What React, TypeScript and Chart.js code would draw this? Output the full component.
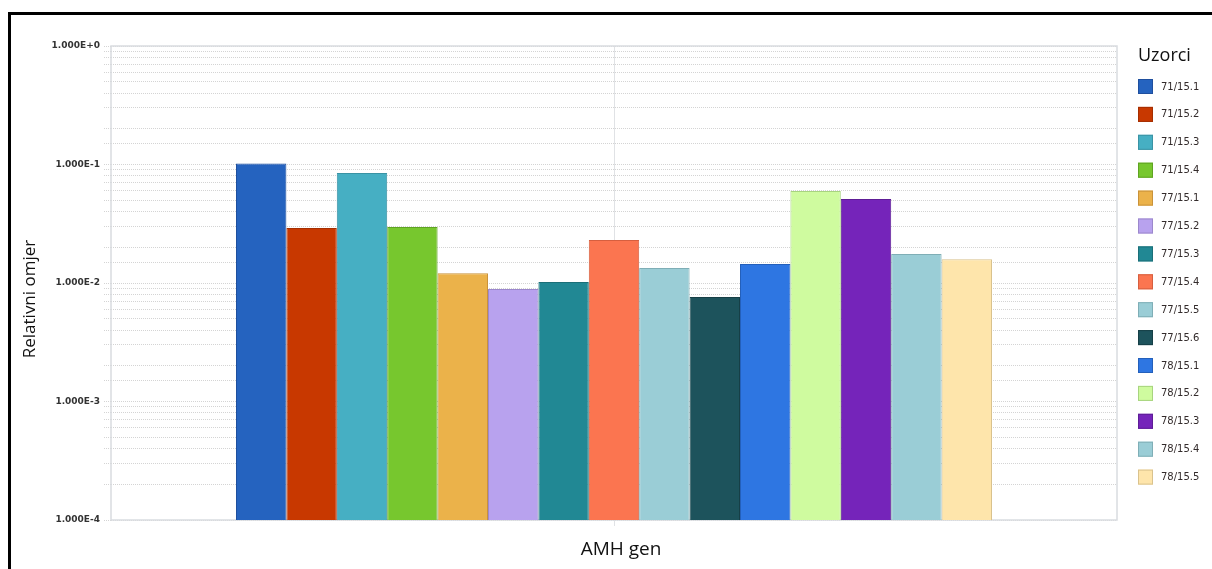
import React, { useEffect, useRef } from "react";
import { Chart, registerables } from "chart.js";

Chart.register(...registerables);

const categories = ["AMH gen"];
const sampleNames = [
  "71/15.1", "71/15.2", "71/15.3", "71/15.4",
  "77/15.1", "77/15.2", "77/15.3", "77/15.4", "77/15.5", "77/15.6",
  "78/15.1", "78/15.2", "78/15.3", "78/15.4", "78/15.5",
];
const sampleValues = [
  0.102, 0.0291, 0.0848, 0.0297,
  0.0121, 0.0089, 0.0102, 0.0231, 0.0134, 0.0076,
  0.0145, 0.0598, 0.0512, 0.0176, 0.0159,
];
const yMin = 1e-4;
const yMax = 1;
const legendTitle = "Uzorci";
const yTitle = "Relativni omjer";
const xTitle = "AMH gen";

const fillColors = [
  "#2563BF", "#C83800", "#46AFC3", "#77C72E",
  "#EBB24A", "#B8A2EE", "#218894", "#FB7550", "#9ACDD6", "#1D535C",
  "#2E76E2", "#CFFB9F", "#7524BA", "#9ACDD6", "#FEE5AB",
];
const edgeColors = [
  "#1F4F9E", "#A52E00", "#3A93A4", "#5FA322",
  "#C9923A", "#9C88CC", "#1B6F78", "#D65F3F", "#7FAEB6", "#163F46",
  "#2460BB", "#A8D47F", "#5E1D96", "#7FAEB6", "#D9C28D",
];

const isPow10 = (v: number) => {
  const l = Math.log10(v);
  return Math.abs(l - Math.round(l)) < 1e-9;
};

const decorPlugin = {
  id: "decor",
  beforeDatasetsDraw(chart: any) {
    const { ctx, chartArea: a } = chart;
    ctx.save();
    ctx.strokeStyle = "#d9dce0";
    ctx.lineWidth = 1.5;
    ctx.strokeRect(a.left, a.top, a.right - a.left, a.bottom - a.top);
    ctx.restore();
  },
  afterDraw(chart: any) {
    const { ctx, chartArea: a } = chart;
    ctx.save();
    ctx.fillStyle = "#111";
    ctx.font = "17px 'Open Sans'";
    ctx.textAlign = "center";
    ctx.textBaseline = "middle";
    ctx.translate(30, (a.top + a.bottom) / 2 + 16);
    ctx.rotate(-Math.PI / 2);
    ctx.fillText(yTitle, 0, 0);
    ctx.restore();

    ctx.save();
    ctx.fillStyle = "#111";
    ctx.font = "19px 'Open Sans'";
    ctx.textAlign = "center";
    ctx.textBaseline = "middle";
    ctx.fillText(xTitle, (a.left + a.right) / 2 + 7, a.bottom + 30);

    const lx = a.right + 21;
    ctx.textAlign = "left";
    ctx.textBaseline = "alphabetic";
    ctx.font = "18px 'Open Sans'";
    ctx.fillStyle = "#111";
    ctx.fillText(legendTitle, lx, 61);
    ctx.font = "10px 'DejaVu Sans'";
    ctx.textBaseline = "middle";
    chart.data.datasets.forEach((ds: any, i: number) => {
      const y = 79 + i * 27.9;
      ctx.fillStyle = ds.backgroundColor;
      ctx.fillRect(lx, y, 15, 15);
      ctx.strokeStyle = ds.borderColor;
      ctx.lineWidth = 1;
      ctx.strokeRect(lx + 0.5, y + 0.5, 14, 14);
      ctx.fillStyle = "#332b2b";
      ctx.fillText(ds.label, lx + 23, y + 8);
    });
    ctx.restore();
  },
};

export default function App() {
  const ref = useRef<HTMLCanvasElement>(null);
  useEffect(() => {
    if (!ref.current) return;
    const chart = new Chart(ref.current, {
      type: "bar",
      data: {
        labels: categories,
        datasets: sampleNames.map((name, i) => ({
          label: name,
          data: [sampleValues[i]],
          backgroundColor: fillColors[i],
          borderColor: edgeColors[i],
          borderWidth: 1,
          categoryPercentage: 0.7515,
          barPercentage: 1,
        })),
      },
      options: {
        animation: false,
        responsive: false,
        devicePixelRatio: 1,
        layout: { padding: { top: 46, right: 95, bottom: 0, left: 0 } },
        plugins: {
          legend: { display: false },
          tooltip: { enabled: false },
        },
        scales: {
          x: {
            grid: {
              offset: false,
              color: "#e0e2e5",
              tickLength: 6,
              drawTicks: true,
            },
            border: { display: false },
            ticks: { display: false },
            afterFit: (s: any) => {
              s.height = 49;
            },
          },
          y: {
            type: "logarithmic",
            min: yMin,
            max: yMax,
            grid: {
              color: "#d4d4d4",
              tickLength: 7,
              tickBorderDash: [1, 1],
              tickColor: "#d4d4d4",
            },
            border: { display: false, dash: [1, 1] },
            ticks: {
              autoSkip: false,
              padding: 4,
              color: "#333",
              font: { family: "'DejaVu Sans'", size: 9, weight: "bold" },
              callback: (v: any) => {
                const n = Number(v);
                return isPow10(n) ? n.toExponential(3).replace("e", "E") : "";
              },
            },
            afterFit: (s: any) => {
              s.width = 111;
            },
          },
        },
      },
      plugins: [decorPlugin],
    });
    return () => chart.destroy();
  }, []);

  return (
    <div style={{ position: "absolute", left: 0, top: 0, width: 1212, height: 569, overflow: "hidden", background: "#fff" }}>
      <div
        style={{
          position: "absolute",
          left: 8,
          top: 12,
          width: 1300,
          height: 700,
          borderLeft: "3px solid #000",
          borderTop: "3px solid #000",
        }}
      />
      <canvas ref={ref} width={1212} height={569} style={{ position: "absolute", left: 0, top: 0 }} />
    </div>
  );
}
